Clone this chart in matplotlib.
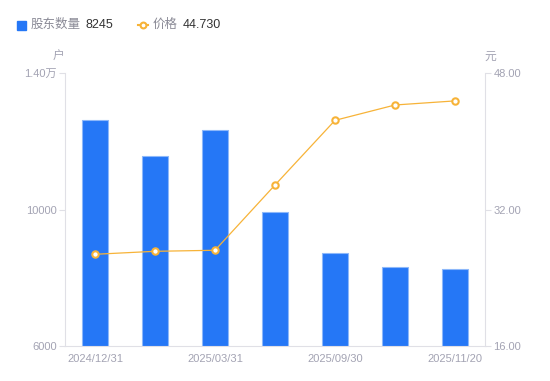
import matplotlib
matplotlib.use("Agg")
import matplotlib.pyplot as plt
from matplotlib.patches import Rectangle
from matplotlib.lines import Line2D

categories = ["2024/12/31", "2025/02/28", "2025/03/31", "2025/06/30",
              "2025/09/30", "2025/10/31", "2025/11/20"]
holders = [12631, 11559, 12330, 9927, 8734, 8324, 8245]
prices = [26.75, 27.10, 27.22, 34.87, 42.45, 44.25, 44.73]
left_ticks = [6000, 10000, 14000]
left_labels = ["6000", "10000", "1.40万"]
right_ticks = [16, 32, 48]
right_labels = ["16.00", "32.00", "48.00"]
legend_bar = "股东数量"
legend_line = "价格"

FONT = ["Liberation Sans", "Noto Sans CJK SC", "DejaVu Sans"]
plt.rcParams["font.family"] = FONT

W, H = 550, 381
fig = plt.figure(figsize=(W / 100, H / 100), dpi=100)
ax = fig.add_axes([65 / W, 35 / H, 420 / W, 273 / H])
ax2 = ax.twinx()

bar_color = "#2577f6"
line_color = "#f7b338"
axis_color = "#e0e0e6"
text_color = "#a3a3b3"

x = list(range(len(categories)))
ax.bar(x, holders, width=0.42, color=bar_color, edgecolor="#8db8fa",
       linewidth=0.8, zorder=2)
ax.set_xlim(-0.5, len(categories) - 0.5)
ax.set_ylim(6000, 14000)
ax.set_yticks(left_ticks)
ax.set_yticklabels(left_labels)

ax2.plot(x, prices, color=line_color, linewidth=0.9, marker="o",
         markersize=4.6, markerfacecolor="white", markeredgecolor=line_color,
         markeredgewidth=1.5, zorder=3)
ax2.set_ylim(16, 48)
ax2.set_yticks(right_ticks)
ax2.set_yticklabels(right_labels)

ax.set_xticks(x[::2])
ax.set_xticklabels(categories[::2])

for a in (ax, ax2):
    for s in a.spines.values():
        s.set_visible(False)
    a.tick_params(axis="y", colors=axis_color, labelcolor=text_color,
                  labelsize=8, length=4, width=0.8, pad=2)
    a.tick_params(axis="x", length=0, labelcolor=text_color, labelsize=8, pad=6)

ax.spines["left"].set_visible(True)
ax.spines["left"].set_color(axis_color)
ax.spines["bottom"].set_visible(True)
ax.spines["bottom"].set_color(axis_color)
ax2.spines["right"].set_visible(True)
ax2.spines["right"].set_color(axis_color)
for s in (ax.spines["left"], ax.spines["bottom"], ax2.spines["right"]):
    s.set_linewidth(0.8)

# unit labels
fig.text(58.5 / W, 1 - 57 / H, "户", color=text_color, fontsize=8.5,
         ha="center", va="center")
fig.text(490 / W, 1 - 57 / H, "元", color=text_color, fontsize=8.5,
         ha="center", va="center")

# legend
ly = 1 - 25 / H
fig.patches.append(Rectangle((17 / W, 1 - 29.5 / H), 9 / W, 9 / H,
                             transform=fig.transFigure, color=bar_color,
                             figure=fig))
fig.text(31 / W, ly, legend_bar, color="#8a8a96", fontsize=9, va="center")
fig.text(85 / W, ly, f"{holders[-1]}", color="#333333", fontsize=9, va="center")
fig.lines.append(Line2D([138 / W, 148 / W], [ly, ly], transform=fig.transFigure,
                        color=line_color, linewidth=1.5, figure=fig))
fig.lines.append(Line2D([143 / W], [ly], transform=fig.transFigure,
                        marker="o", markersize=4.2, markerfacecolor="white",
                        markeredgecolor=line_color, markeredgewidth=1.5,
                        figure=fig))
fig.text(153 / W, ly, legend_line, color="#8a8a96", fontsize=9, va="center")
fig.text(183 / W, ly, f"{prices[-1]:.3f}", color="#333333", fontsize=9,
         va="center")

fig.savefig("out.png", dpi=100)
